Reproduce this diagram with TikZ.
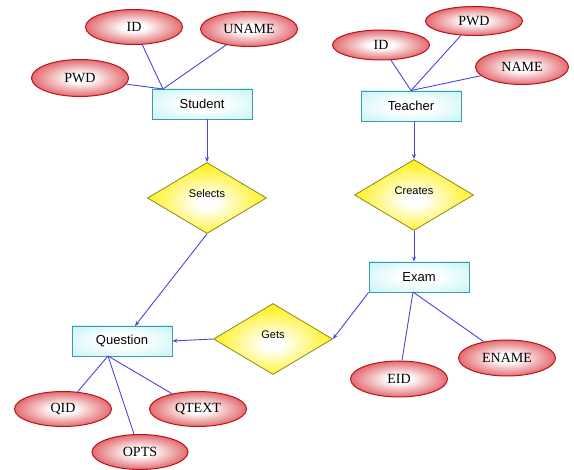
\documentclass[tikz,border=0pt]{standalone}
\usepackage{fontspec}
\setmainfont{Liberation Serif}
\setsansfont{Liberation Sans}
\usetikzlibrary{shapes.geometric}
\usetikzlibrary{arrows.meta}
\definecolor{attrred}{RGB}{210,22,30}
\definecolor{attrrim}{RGB}{185,20,25}
\definecolor{relyellow}{RGB}{255,240,0}
\definecolor{relrim}{RGB}{140,135,30}
\definecolor{entcyan}{RGB}{175,240,244}
\definecolor{entrim}{RGB}{60,155,165}
\definecolor{linkblue}{RGB}{70,70,225}
\pgfdeclareradialshading{attrshade}{\pgfpoint{0bp}{0bp}}{color(0bp)=(white); color(6bp)=(white); color(36bp)=(attrred); color(50bp)=(attrred)}
\pgfdeclareradialshading{relshade}{\pgfpoint{0bp}{-4bp}}{color(0bp)=(white); color(4bp)=(white); color(28bp)=(relyellow); color(50bp)=(relyellow)}
\pgfdeclareradialshading{entshade}{\pgfpoint{0bp}{0bp}}{color(0bp)=(white); color(10bp)=(white); color(45bp)=(entcyan)}

\begin{document}
\begin{tikzpicture}[x=1pt,y=-1pt,
  attr/.style={ellipse,draw=attrrim,line width=1pt,shading=attrshade,
    minimum width=97pt,minimum height=35pt,inner sep=0pt,
    font=\fontsize{14}{16}\selectfont},
  entity/.style={rectangle,draw=entrim,line width=0.9pt,shading=entshade,
    minimum width=100pt,minimum height=30pt,inner sep=0pt,
    font=\sffamily\fontsize{13}{15}\selectfont},
  relation/.style={diamond,draw=relrim,line width=0.8pt,shading=relshade,
    minimum width=119pt,minimum height=71pt,inner sep=0pt,text depth=9pt,
    font=\sffamily\fontsize{11}{13}\selectfont},
  link/.style={draw=linkblue,line width=0.9pt},
  linkto/.style={link,-{Stealth[length=5pt,width=4pt]}}]
\useasboundingbox (0,0) rectangle (574,470);
% student side
\node[attr] (sid) at (134,27) {ID};
\node[attr] (suname) at (249,29) {UNAME};
\node[attr,minimum height=37pt] (spwd) at (80,78) {PWD};
\node[entity] (student) at (202,104) {Student};
\node[relation] (selects) at (207,198) {Selects};
% teacher side
\node[attr,minimum height=30pt] (tid) at (381,45) {ID};
\node[attr,minimum height=29pt] (tpwd) at (474,21) {PWD};
\node[attr,minimum width=93pt] (tname) at (522,67) {NAME};
\node[entity] (teacher) at (411,106) {Teacher};
\node[relation] (creates) at (414,195) {Creates};
\node[entity] (exam) at (419,277) {Exam};
\node[attr,minimum height=36pt] (eid) at (399,379) {EID};
\node[attr,minimum height=36pt] (ename) at (507,358) {ENAME};
% question
\node[relation] (gets) at (273,339) {Gets};
\node[entity] (question) at (122,341) {Question};
\node[attr] (qid) at (63,409) {QID};
\node[attr] (qtext) at (198,409) {QTEXT};
\node[attr,minimum width=96pt] (opts) at (140,452) {OPTS};
\coordinate (sjoin) at (163,89);
\coordinate (qjoin) at (108,356);
\coordinate (qin) at (135,326);
\coordinate (ejoin) at (413,292);
% attribute links
\draw[link] (sid) -- (sjoin);
\draw[link] (suname) -- (sjoin);
\draw[link] (spwd) -- (sjoin);
\draw[link] (tid) -- (teacher.north);
\draw[link] (tpwd) -- (teacher.north);
\draw[link] (tname) -- (teacher.north);
\draw[link] (eid) -- (ejoin);
\draw[link] (ename) -- (ejoin);
\draw[link] (qid) -- (qjoin);
\draw[link] (qtext) -- (qjoin);
\draw[link] (opts) -- (qjoin);
% relationship links
\draw[linkto] (selects.north |- student.south) -- (selects.north);
\draw[linkto] (selects.south) -- (qin);
\draw[linkto] (creates.north |- teacher.south) -- (creates.north);
\draw[linkto] (creates.south) -- (creates.south |- exam.north);
\draw[linkto] (exam.south west) -- (gets.east);
\draw[linkto] (gets.west) -- (question.east);
\end{tikzpicture}
\end{document}
